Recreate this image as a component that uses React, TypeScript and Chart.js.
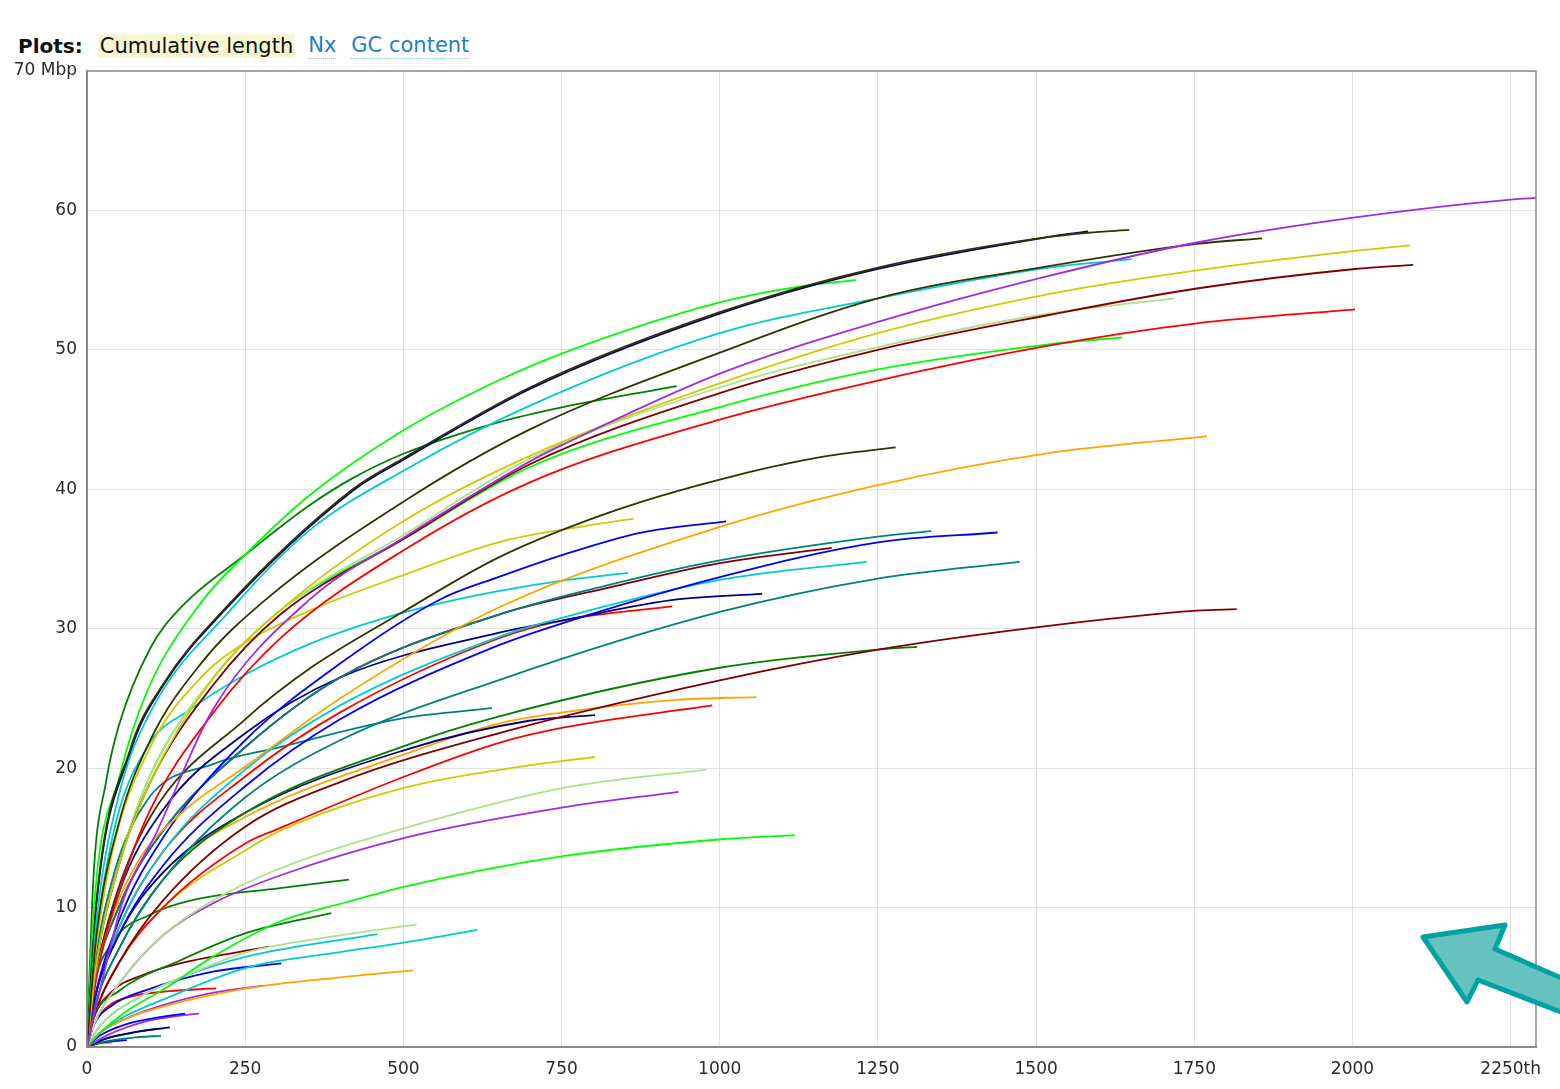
import React, { useEffect, useRef } from "react";
import { Chart, registerables } from "chart.js";

Chart.register(...registerables);

// ---- data: each contig-count curve as [contig index, cumulative Mbp] ----
const c01: [number, number][] = [[0,0],[20,4],[57,10.5],[110,15.4],[199,24.2],[352,32.1],[503,36.6],[700,42.0],[752,43.2],[1000,48.3],[1250,52.0],[1520,55.3],[1754,57.7],[2004,59.5],[2254,60.8],[2290,60.9]];
const c02: [number, number][] = [[0,0],[15,8],[50,16],[100,22],[180,27.5],[280,32],[503,39.2],[700,44.3],[1000,49.8],[1250,53.7],[1520,56.0],[1754,57.6],[1857,58.0]];
const c03: [number, number][] = [[0,0],[15,6],[50,13],[100,19],[200,26.5],[326,32.1],[503,37.8],[700,42.4],[1000,47.6],[1250,51.2],[1520,54.0],[1754,55.7],[2004,57.1],[2091,57.5]];
const c04: [number, number][] = [[0,0],[15,6],[50,13],[100,19],[200,26],[305,31],[503,36.5],[700,41.8],[1000,46.9],[1250,50.0],[1520,52.5],[1754,54.4],[2004,55.8],[2096,56.1]];
const c05: [number, number][] = [[0,0],[15,5],[50,11],[100,17],[200,24],[310,29.5],[503,35.7],[700,40.5],[1000,45.0],[1250,47.8],[1520,50.3],[1754,51.9],[2004,52.9]];
const c06: [number, number][] = [[0,0],[15,6],[50,13],[100,19.5],[200,26.5],[305,31.3],[503,36.8],[700,42.2],[1000,47.3],[1250,50.2],[1506,52.5],[1719,53.7]];
const c07: [number, number][] = [[0,0],[15,9],[50,18],[100,24],[226,31.3],[350,37],[503,41.4],[700,46.0],[1000,51.2],[1250,53.7],[1520,55.9],[1651,56.5]];
const c08: [number, number][] = [[0,0],[15,6],[50,13],[100,19.5],[200,26.5],[305,31.3],[503,36.5],[700,41.6],[1000,45.9],[1250,48.6],[1520,50.4],[1636,50.9]];
const c09: [number, number][] = [[0,0],[15,10.5],[68,21.3],[120,26],[215,31.3],[420,40],[503,42.3],[700,47.3],[1000,52.7],[1250,55.9],[1520,58.1],[1582,58.4],[1647,58.6]];
const c10: [number, number][] = [[0,0],[15,10.3],[68,21.1],[120,25.9],[215,31.2],[420,39.9],[503,42.2],[700,47.2],[1000,52.6],[1250,55.8],[1520,58.1],[1582,58.5]];
const c11: [number, number][] = [[0,0],[10,9.5],[52,19.5],[95,25.5],[179,31.8],[250,35.3],[350,39.5],[503,44.3],[650,47.8],[766,50.0],[1000,53.4],[1136,54.6],[1215,55.0]];
const c12: [number, number][] = [[0,0],[10,12],[30,19],[50,23],[100,28.6],[150,31.6],[250,35.3],[350,38.8],[420,40.8],[503,42.6],[650,44.8],[752,45.9],[932,47.4]];
const c13: [number, number][] = [[0,0],[10,4],[30,8],[79,13.2],[150,16.8],[250,20.1],[400,25.0],[650,31.5],[1000,37.3],[1250,40.3],[1520,42.6],[1770,43.8]];
const c14: [number, number][] = [[0,0],[10,4],[40,10],[100,16.5],[250,23.5],[357,27.3],[503,31.3],[650,35.1],[836,38.5],[1000,40.7],[1159,42.3],[1278,43.0]];
const c15: [number, number][] = [[0,0],[10,5.5],[40,14],[100,21.5],[180,26.5],[250,29],[352,31.3],[503,33.9],[650,36.2],[791,37.4],[864,37.9]];
const c16: [number, number][] = [[0,0],[10,3],[50,9],[120,15],[250,22],[400,27.5],[558,32.1],[650,33.7],[752,35.3],[876,36.9],[1010,37.7]];
const c17: [number, number][] = [[0,0],[10,4],[50,10],[120,15.5],[250,21.5],[400,26.5],[650,31.0],[830,33.2],[1000,34.9],[1250,36.6],[1334,37.0]];
const c18: [number, number][] = [[0,0],[10,3],[50,8],[120,13],[250,18.7],[400,23.5],[650,28.8],[752,30.4],[1000,33.7],[1250,36.2],[1439,36.9]];
const c19: [number, number][] = [[0,0],[10,4],[50,10],[120,15.5],[250,21.5],[400,26.5],[650,31.0],[830,33.0],[1000,34.7],[1177,35.8]];
const c20: [number, number][] = [[0,0],[10,3],[50,8.5],[120,14],[250,19.9],[400,24.5],[650,29.4],[752,30.8],[1000,33.5],[1232,34.8]];
const c21: [number, number][] = [[0,0],[10,2.5],[50,7],[120,12],[250,17.9],[400,22],[650,26.3],[1000,31.2],[1250,33.6],[1474,34.8]];
const c22: [number, number][] = [[0,0],[10,6],[40,15],[95,21.5],[163,24.2],[250,26.7],[357,29.0],[480,30.9],[585,32.1],[650,32.7],[760,33.5],[855,34.0]];
const c23: [number, number][] = [[0,0],[10,4],[50,11],[120,17],[250,22.5],[400,26.5],[650,29.7],[752,30.6],[932,32.1],[1067,32.5]];
const c24: [number, number][] = [[0,0],[10,3],[50,8.5],[120,14],[250,19.4],[400,24],[650,29.3],[752,30.6],[925,31.6]];
const c25: [number, number][] = [[0,0],[10,2],[50,6],[120,10.5],[250,15.8],[400,19.0],[650,22.5],[1000,26.3],[1250,28.5],[1500,30.1],[1754,31.3],[1817,31.4]];
const c26: [number, number][] = [[0,0],[10,2.5],[50,7],[120,12],[250,16.8],[502,21.6],[650,23.7],[1000,27.2],[1250,28.5],[1312,28.7]];
const c27: [number, number][] = [[0,0],[10,5],[40,12],[95,17.7],[200,20.3],[305,21.5],[502,23.6],[640,24.3]];
const c28: [number, number][] = [[0,0],[10,3],[50,8],[120,12.5],[250,16.8],[502,21.3],[699,23.4],[803,23.8]];
const c29: [number, number][] = [[0,0],[10,3],[50,8],[120,12.5],[250,16.5],[502,21.0],[650,23.2],[752,24.0],[932,24.9],[1058,25.1]];
const c30: [number, number][] = [[0,0],[10,2],[50,6],[120,10],[250,14.6],[305,15.7],[502,19.4],[650,21.8],[752,22.9],[988,24.5]];
const c31: [number, number][] = [[0,0],[10,2],[50,6],[120,10],[250,14.1],[305,15.5],[502,18.6],[699,20.2],[803,20.8]];
const c32: [number, number][] = [[0,0],[10,1.5],[50,4.5],[120,8],[199,10.5],[305,12.8],[502,15.7],[755,18.6],[979,19.9]];
const c33: [number, number][] = [[0,0],[10,1.5],[50,4.5],[120,8],[199,10.3],[305,12.3],[502,15.0],[755,17.2],[935,18.3]];
const c34: [number, number][] = [[0,0],[20,1],[60,2.5],[120,4.1],[200,6.5],[305,9.0],[411,10.4],[502,11.5],[755,13.7],[1003,14.9],[1119,15.2]];
const c35: [number, number][] = [[0,0],[10,4],[40,7.5],[100,9.5],[163,10.5],[305,11.4],[414,12.0]];
const c36: [number, number][] = [[0,0],[10,2],[50,4],[147,6.2],[253,8.2],[386,9.6]];
const c37: [number, number][] = [[0,0],[20,1.5],[80,3.5],[150,5],[253,6.8],[400,8.0],[521,8.8]];
const c38: [number, number][] = [[0,0],[20,1.5],[80,3.5],[150,5],[253,6.5],[459,8.1]];
const c39: [number, number][] = [[0,0],[20,1],[60,2.2],[120,3.4],[253,5.7],[400,6.8],[503,7.5],[617,8.4]];
const c40: [number, number][] = [[0,0],[10,2],[40,4],[90,5.2],[147,6.0],[288,7.2]];
const c41: [number, number][] = [[0,0],[10,1.5],[40,3],[95,4.1],[199,5.4],[307,6.0]];
const c42: [number, number][] = [[0,0],[20,1],[60,2],[120,2.9],[253,4.2],[400,5.0],[515,5.5]];
const c43: [number, number][] = [[0,0],[10,1.5],[30,2.8],[68,3.6],[130,4.0],[204,4.2]];
const c44: [number, number][] = [[0,0],[20,1],[60,2],[120,3],[200,3.9],[278,4.4]];
const c45: [number, number][] = [[0,0],[20,0.8],[60,1.6],[110,2.1],[155,2.4]];
const c46: [number, number][] = [[0,0],[30,0.8],[90,1.8],[140,2.2],[177,2.4]];
const c47: [number, number][] = [[0,0],[30,0.6],[80,1.1],[131,1.4]];
const c48: [number, number][] = [[0,0],[30,0.6],[70,1.0],[111,1.3]];
const c49: [number, number][] = [[0,0],[30,0.4],[80,0.7],[117,0.8]];
const c50: [number, number][] = [[0,0],[20,0.3],[63,0.5]];
const c51: [number, number][] = [[0,0],[15,0.2],[40,0.3]];

const curves = [c01,c02,c03,c04,c05,c06,c07,c08,c09,c10,c11,c12,c13,c14,c15,c16,c17,c18,c19,c20,c21,c22,c23,c24,c25,c26,c27,c28,c29,c30,c31,c32,c33,c34,c35,c36,c37,c38,c39,c40,c41,c42,c43,c44,c45,c46,c47,c48,c49,c50,c51];

const xTicks = [0, 250, 500, 750, 1000, 1250, 1500, 1750, 2000, 2250];
const yTicks = [0, 10, 20, 30, 40, 50, 60, 70];
const xMax = 2290;
const yMax = 70;

// ---- styles ----
const RED = "#FF0000", BLUE = "#0000FF", GREEN = "#008000", PURPLE = "#A22BE2", ORANGE = "#FFA500",
  MAROON = "#800000", CYAN = "#00CCCC", LGREEN = "#B2DF8A", OLIVE = "#333300", YELLOW = "#CCCC00",
  NAVY = "#000080", TEAL = "#008080", LIME = "#00FF00";
const lineColors = [PURPLE, OLIVE, YELLOW, MAROON, RED, LGREEN, CYAN, LIME, OLIVE, NAVY, LIME, GREEN,
  ORANGE, OLIVE, YELLOW, BLUE, TEAL, BLUE, MAROON, CYAN, TEAL, CYAN, NAVY, RED, MAROON, GREEN, TEAL,
  NAVY, ORANGE, RED, YELLOW, LGREEN, PURPLE, LIME, GREEN, GREEN, LGREEN, CYAN, CYAN, MAROON, BLUE,
  ORANGE, RED, PURPLE, BLUE, PURPLE, NAVY, GREEN, TEAL, BLUE, ORANGE];

const FONT = "'DejaVu Sans', Verdana, sans-serif";

const framePlugin = {
  id: "frame",
  afterDatasetsDraw(chart: any) {
    const { ctx, chartArea } = chart;
    ctx.save();
    ctx.strokeStyle = "#8a8a8a";
    ctx.lineWidth = 1.5;
    ctx.strokeRect(chartArea.left, chartArea.top, chartArea.right - chartArea.left, chartArea.bottom - chartArea.top);
    ctx.restore();
  },
};

function CumulativeChart() {
  const ref = useRef<HTMLCanvasElement | null>(null);
  useEffect(() => {
    if (!ref.current) return;
    const chart = new Chart(ref.current, {
      type: "line",
      data: {
        datasets: curves.map((pts, i) => ({
          data: pts.map(([x, y]) => ({ x, y })),
          borderColor: lineColors[i % lineColors.length],
          backgroundColor: lineColors[i % lineColors.length],
          borderWidth: 1.8,
          pointRadius: 0,
          fill: false,
          cubicInterpolationMode: "monotone" as const,
        })),
      },
      options: {
        animation: false,
        responsive: false,
        devicePixelRatio: 1,
        layout: { padding: { left: 0, right: 24, top: 11, bottom: 0 } },
        plugins: { legend: { display: false }, tooltip: { enabled: false } },
        scales: {
          x: {
            type: "linear",
            min: 0,
            max: xMax,
            afterBuildTicks: (axis: any) => {
              axis.ticks = xTicks.map((v) => ({ value: v }));
            },
            afterFit: (scale: any) => {
              scale.height = 42;
              scale.paddingLeft = 0;
              scale.paddingRight = 0;
            },
            ticks: {
              padding: 12,
              color: "#2a2a2a",
              font: { family: FONT, size: 17 },
              maxRotation: 0,
              autoSkip: false,
              callback: (v: any) => (Number(v) === 2250 ? "2250th" : String(v)),
            },
            grid: { color: "#e2e2e2", lineWidth: 1, drawTicks: false },
            border: { color: "#888", width: 2 },
          },
          y: {
            type: "linear",
            min: 0,
            max: yMax,
            afterBuildTicks: (axis: any) => {
              axis.ticks = yTicks.map((v) => ({ value: v }));
            },
            afterFit: (scale: any) => {
              scale.width = 87;
              scale.paddingTop = 0;
              scale.paddingBottom = 0;
            },
            ticks: {
              padding: 10,
              color: "#2a2a2a",
              font: { family: FONT, size: 17 },
              autoSkip: false,
              callback: (v: any) => (Number(v) === 70 ? "70 Mbp" : String(v)),
            },
            grid: { color: "#e2e2e2", lineWidth: 1, drawTicks: false },
            border: { color: "#888", width: 2 },
          },
        },
      },
      plugins: [framePlugin],
    });
    return () => chart.destroy();
  }, []);
  return (
    <canvas
      ref={ref}
      width={1560}
      height={1029}
      style={{ position: "absolute", left: 0, top: 60, width: 1560, height: 1029 }}
    />
  );
}

export default function App() {
  const link = {
    color: "#1f7ec8",
    borderBottom: "1.5px dotted #9ec3e0",
    paddingBottom: 1,
  };
  return (
    <div style={{ position: "absolute", left: 0, top: 0, width: 1560, height: 1089, background: "#fff", overflow: "hidden" }}>
      <div
        style={{
          position: "absolute",
          left: 18,
          top: 33,
          fontFamily: FONT,
          fontSize: 21,
          lineHeight: "24px",
          color: "#111",
          whiteSpace: "nowrap",
          display: "flex",
          alignItems: "center",
        }}
      >
        <span style={{ fontWeight: "bold", fontSize: 20, marginRight: 15 }}>Plots:</span>
        <span style={{ background: "#f7f6d2", padding: "0 2px", marginRight: 13 }}>Cumulative length</span>
        <span style={{ ...link, marginRight: 15 }}>Nx</span>
        <span style={link}>GC content</span>
      </div>
      <CumulativeChart />
      <svg
        width={1560}
        height={1089}
        style={{ position: "absolute", left: 0, top: 0, pointerEvents: "none" }}
      >
        <polygon
          points="1423,937 1505,925 1495,949 1566,980 1566,1014 1478,980 1467,1002"
          fill="#66c2bf"
          stroke="#00a3a3"
          strokeWidth={5}
          strokeLinejoin="round"
        />
      </svg>
    </div>
  );
}
